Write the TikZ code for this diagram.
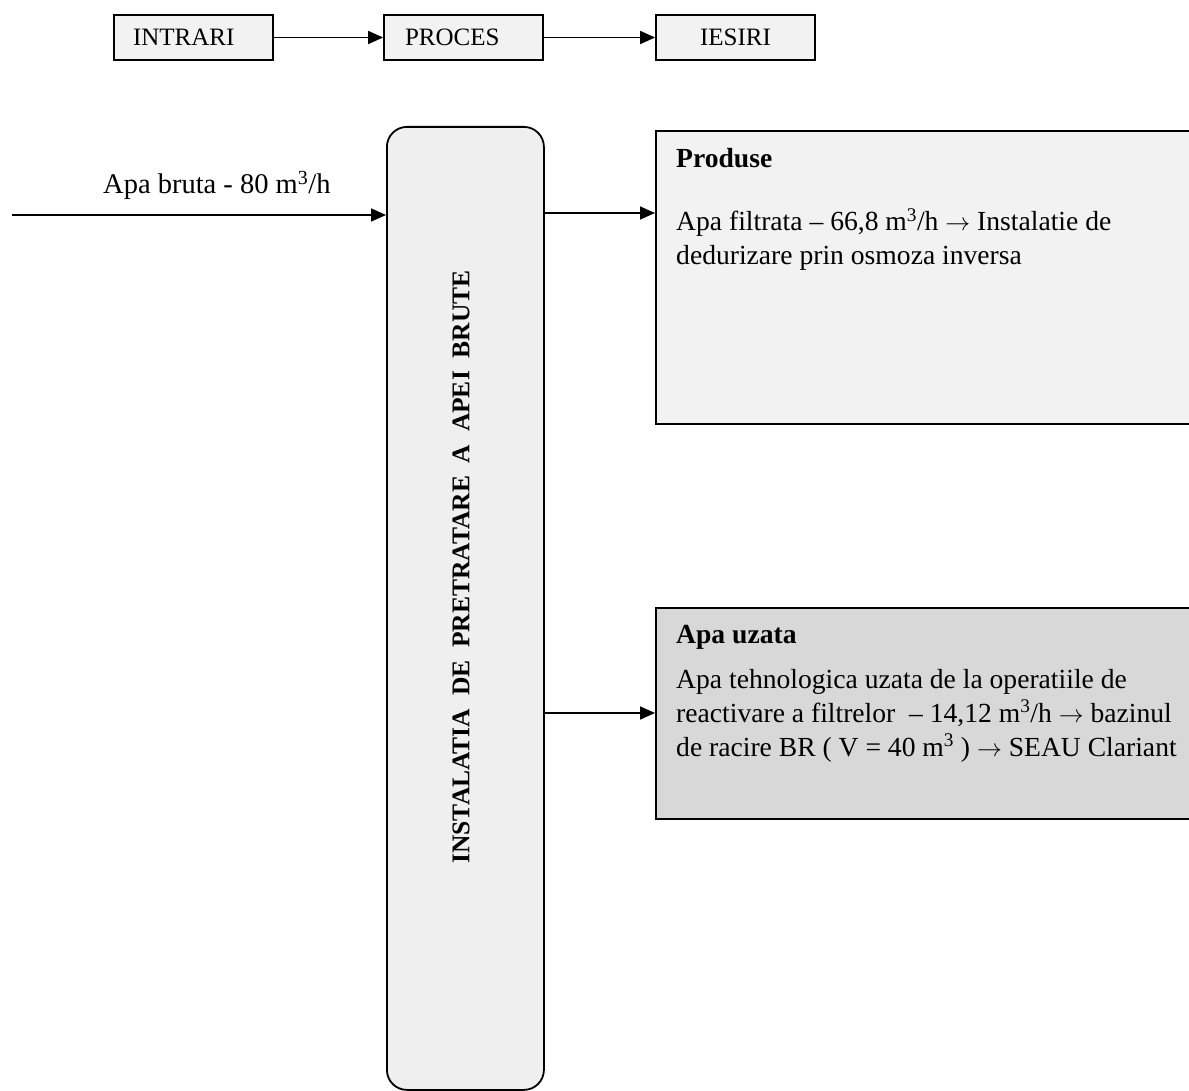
\documentclass[tikz,border=0pt]{standalone}
\usepackage{fontspec}
\setmainfont{Liberation Serif}
\usetikzlibrary{arrows.meta}
\definecolor{boxgray}{HTML}{F2F2F2}
\definecolor{procgray}{HTML}{EFEFEF}
\definecolor{wastegray}{HTML}{D8D8D8}
\newcommand{\flowarrow}{\ensuremath{\rightarrow}}
\begin{document}
\begin{tikzpicture}[x=1pt,y=-1pt,
  topbox/.style={draw=black, line width=1.8pt, fill=boxgray, minimum height=45pt, inner ysep=0pt, align=left, font=\fontsize{25}{28}\selectfont},
  bigbox/.style={draw=black, line width=1.8pt, anchor=north west, inner sep=0pt},
  flow/.style={line width=1.7pt, -{Triangle[length=15pt,width=13pt]}},
  body/.style={anchor=base west, inner sep=0pt, font=\fontsize{27.6}{33}\selectfont},
  title/.style={anchor=base west, inner sep=0pt, font=\fontsize{27.6}{33}\selectfont\bfseries}]
\useasboundingbox (0,0) rectangle (1189,1091);
\clip (0,0) rectangle (1189,1091);

% top legend
\node[topbox, inner xsep=19pt, text width=121pt] (intr) at (193.5,37.5) {INTRARI};
\node[topbox, inner xsep=21pt, text width=117pt] (procl) at (463.5,37.5) {PROCES};
\node[topbox, inner xsep=44pt, text width=71pt] (iesi) at (735.5,37.5) {IESIRI};
\draw[flow] (intr.east) -- (procl.west);
\draw[flow] (procl.east) -- (iesi.west);

% process column
\node[bigbox, fill=procgray, rounded corners=20pt, minimum width=157pt, minimum height=963pt] (proc) at (386,126) {};
\node[rotate=90, inner sep=0pt, font=\fontsize{25.5}{28}\selectfont\bfseries] (proctext) at (461,567)
  {INSTALATIA\ \ DE\ \ PRETRATARE\ \ A\ \ APEI\ \ BRUTE};

% products box
\node[bigbox, fill=boxgray, minimum width=560pt, minimum height=293pt] (prod) at (655,130) {};
\node[title] (prodt) at (676,168) {Produse};
\node[body] (prod1) at (676,231) {Apa filtrata – 66,8 m\textsuperscript{3}/h \flowarrow{} Instalatie de};
\node[body] (prod2) at (676,265) {dedurizare prin osmoza inversa};

% waste water box
\node[bigbox, fill=wastegray, minimum width=560pt, minimum height=211pt] (waste) at (655,607) {};
\node[title] (wastet) at (676,643) {Apa uzata};
\node[body] (waste1) at (676,688) {Apa tehnologica uzata de la operatiile de};
\node[body] (waste2) at (676,722) {reactivare a filtrelor\ \ – 14,12 m\textsuperscript{3}/h \flowarrow{} bazinul};
\node[body] (waste3) at (676,756) {de racire BR ( V = 40 m\textsuperscript{3} ) \flowarrow{} SEAU Clariant};

% input
\coordinate (src) at (12,215);
\draw[flow] (src) -- (src -| proc.west);
\node[body, font=\fontsize{28.5}{33}\selectfont] (inlabel) at (103,194) {Apa bruta - 80 m\textsuperscript{3}/h};

% outputs
\coordinate (o1) at (600,213);
\coordinate (o2) at (600,713);
\draw[flow] (proc.east |- o1) -- (prod.west |- o1);
\draw[flow] (proc.east |- o2) -- (waste.west |- o2);
\end{tikzpicture}
\end{document}
